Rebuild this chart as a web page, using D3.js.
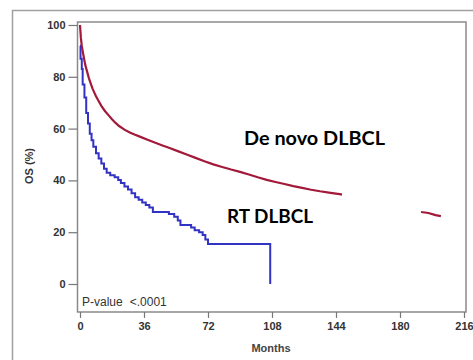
<!DOCTYPE html>
<html>
<head>
<meta charset="utf-8">
<script src="https://cdn.jsdelivr.net/npm/d3@7"></script>
<style>
  body { margin: 0; background: #fff; }
  svg { display: block; }
</style>
</head>
<body>
<script>
'use strict';

// months and survival (%)
const deNovoMonths = [0, 0.5, 1, 1.5, 2, 3, 4, 5, 6, 7, 8, 9, 10, 12, 14, 16, 18, 20, 22, 25, 28, 31, 34, 38, 42, 46, 50, 55, 60, 65, 70, 75, 80, 85, 90, 95, 100, 105, 110, 115, 120, 125, 130, 135, 140, 147, 160, 175, 185, 192, 196, 200, 203];
const deNovoOS = [100, 95, 92, 90, 88, 84.5, 82, 79.5, 77.5, 75.5, 74, 72.5, 71.2, 68.8, 66.8, 65.2, 63.6, 62.2, 61, 59.6, 58.5, 57.6, 56.8, 55.7, 54.6, 53.6, 52.6, 51.3, 50, 48.7, 47.4, 46.2, 45.2, 44.2, 43.3, 42.3, 41.2, 40.2, 39.4, 38.6, 37.8, 37.1, 36.4, 35.8, 35.3, 34.6, 32.6, 30.2, 28.8, 27.8, 27.4, 26.6, 26.2];

const rtMonths = [0, 0.3, 1, 1.5, 2.5, 3.5, 4.5, 5.5, 6.5, 7.5, 9, 10.5, 12, 13.5, 15, 17, 19.5, 21.5, 23, 25, 27, 29, 31, 33, 35, 37, 39, 41, 50, 53, 55, 56.5, 62.5, 64.5, 67, 69, 70.5, 72, 107];
const rtOS = [92, 87, 83, 77, 72, 66, 62, 58, 55.5, 53, 50.5, 48.5, 46.5, 44.5, 43, 42, 41.2, 40.2, 39, 37.6, 36.5, 35, 33.5, 32.5, 31.5, 30.5, 29.5, 27.8, 27, 26, 24.5, 22.8, 21.8, 20.8, 20, 18.9, 17.2, 15.4, 0];

const xTicks = [0, 36, 72, 108, 144, 180, 216];
const yTicks = [0, 20, 40, 60, 80, 100];

const width = 473;
const height = 360;

const svg = d3.select('body')
  .append('svg')
  .attr('width', width)
  .attr('height', height);

// outer frame
svg.append('path')
  .attr('d', 'M12.5,' + height + 'V10.5H' + width)
  .attr('fill', 'none')
  .attr('stroke', '#a0a0a0')
  .attr('stroke-width', 1.5);

const xScale = d3.scaleLinear().domain([0, 216]).range([80, 464]);
const yScale = d3.scaleLinear().domain([0, 100]).range([284, 25]);

// plot box
svg.append('rect')
  .attr('x', 77.5)
  .attr('y', 22)
  .attr('width', 388.5)
  .attr('height', 290)
  .attr('fill', 'none')
  .attr('stroke', '#8a8a8a')
  .attr('stroke-width', 1.5);

const tickFont = 'Liberation Sans, Arial, sans-serif';

const xAxis = svg.append('g')
  .attr('transform', 'translate(0,312)')
  .call(d3.axisBottom(xScale).tickValues(xTicks).tickSize(6).tickPadding(4));
xAxis.select('.domain').remove();

const yAxis = svg.append('g')
  .attr('transform', 'translate(77.5,0)')
  .call(d3.axisLeft(yScale).tickValues(yTicks).tickSize(9).tickPadding(3));
yAxis.select('.domain').remove();

[xAxis, yAxis].forEach(function(ax) {
  ax.selectAll('line').attr('stroke', '#777').attr('stroke-width', 1.2);
  ax.selectAll('text')
    .attr('fill', '#333')
    .style('font-family', tickFont)
    .style('font-size', '11px')
    .style('font-weight', 'bold');
});

svg.append('text')
  .attr('x', 271)
  .attr('y', 352)
  .attr('text-anchor', 'middle')
  .style('font-family', tickFont)
  .style('font-size', '11px')
  .style('font-weight', 'bold')
  .attr('fill', '#444')
  .text('Months');

svg.append('text')
  .attr('transform', 'translate(33,166)rotate(-90)')
  .attr('text-anchor', 'middle')
  .style('font-family', tickFont)
  .style('font-size', '11px')
  .style('font-weight', 'bold')
  .attr('fill', '#333')
  .text('OS (%)');

const pText = svg.append('text')
  .attr('x', 82)
  .attr('y', 306)
  .style('font-family', tickFont)
  .style('font-size', '12px')
  .attr('fill', '#333');
pText.append('tspan').text('P-value');
pText.append('tspan').attr('dx', 7).text('<.0001');

const stepLine = d3.line()
  .x(function(d) { return xScale(d[0]); })
  .y(function(d) { return yScale(d[1]); })
  .curve(d3.curveStepAfter);

const smoothLine = d3.line()
  .x(function(d) { return xScale(d[0]); })
  .y(function(d) { return yScale(d[1]); });

svg.append('path')
  .datum(d3.zip(rtMonths, rtOS))
  .attr('d', stepLine)
  .attr('fill', 'none')
  .attr('stroke', '#3232c4')
  .attr('stroke-width', 2);

svg.append('path')
  .datum(d3.zip(deNovoMonths, deNovoOS))
  .attr('d', smoothLine)
  .attr('fill', 'none')
  .attr('stroke', '#a3193a')
  .attr('stroke-width', 2.2);

// white label box that hides part of the red curve
svg.append('rect')
  .attr('x', 342)
  .attr('y', 188)
  .attr('width', 79)
  .attr('height', 45)
  .attr('fill', '#fff');

const labelFont = 'Lato, "Open Sans", sans-serif';

svg.append('text')
  .attr('x', 244)
  .attr('y', 145)
  .attr('textLength', 141)
  .attr('lengthAdjust', 'spacingAndGlyphs')
  .style('font-family', labelFont)
  .style('font-size', '18px')
  .style('font-weight', 'bold')
  .attr('fill', '#000')
  .text('De novo DLBCL');

svg.append('text')
  .attr('x', 227)
  .attr('y', 223)
  .attr('textLength', 86)
  .attr('lengthAdjust', 'spacingAndGlyphs')
  .style('font-family', labelFont)
  .style('font-size', '18px')
  .style('font-weight', 'bold')
  .attr('fill', '#000')
  .text('RT DLBCL');
</script>
</body>
</html>
